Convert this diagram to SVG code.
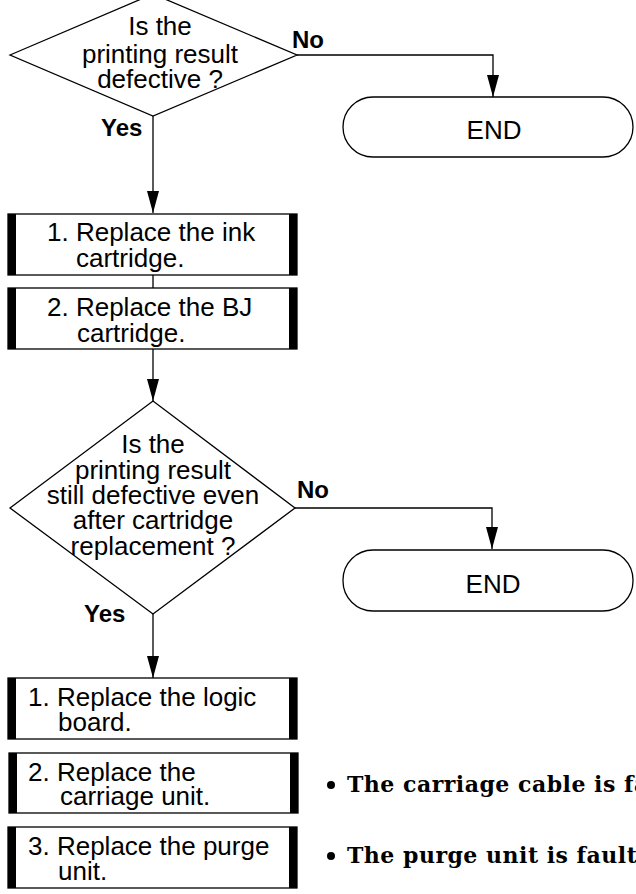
<svg xmlns="http://www.w3.org/2000/svg" width="636" height="894" viewBox="0 0 636 894">
<defs>
<marker id="arr" markerWidth="22" markerHeight="12" refX="22" refY="6" orient="auto" markerUnits="userSpaceOnUse" viewBox="0 0 22 12">
<path d="M0,0 L22,6 L0,12 Z" fill="#000"/>
</marker>
<style>
.shape{fill:#fff;stroke:#000;stroke-width:1.3}
.bar{fill:#000}
.t{font-family:"Liberation Sans",Arial,sans-serif;font-size:26px;fill:#000}
.lbl{font-family:"Liberation Sans",Arial,sans-serif;font-size:24px;font-weight:bold;fill:#000}
.note{font-family:"DejaVu Serif",serif;font-size:22px;font-weight:bold;letter-spacing:0.5px;fill:#000}
.c{fill:none;stroke:#000;stroke-width:1.3}
</style>
</defs>
<rect width="636" height="894" fill="#fff"/>
<g id="connectors">
<path class="c" d="M297,55 H493 V97" marker-end="url(#arr)"/>
<path class="c" d="M153,116 V213" marker-end="url(#arr)"/>
<path class="c" d="M153,275 V288"/>
<path class="c" d="M153,349 V401" marker-end="url(#arr)"/>
<path class="c" d="M295,508 H492 V549" marker-end="url(#arr)"/>
<path class="c" d="M153,614 V678" marker-end="url(#arr)"/>
</g>
<g id="labels">
<text class="lbl" x="292" y="48">No</text>
<text class="lbl" x="101" y="136">Yes</text>
<text class="lbl" x="297" y="498">No</text>
<text class="lbl" x="84" y="622">Yes</text>
</g>
<g id="d1">
<polygon class="shape" points="10,55 153,-6 297,55 153,116"/>
<text class="t" text-anchor="middle" x="160" y="35">Is the</text>
<text class="t" text-anchor="middle" x="160" y="63">printing result</text>
<text class="t" text-anchor="middle" x="160" y="88">defective ?</text>
</g>
<g id="end1">
<rect class="shape" x="343" y="97" width="290" height="60" rx="30" ry="30"/>
<text class="t" text-anchor="middle" x="494" y="139">END</text>
</g>
<g id="b1">
<rect class="shape" x="8" y="214" width="289" height="61"/>
<rect class="bar" x="8" y="214" width="8" height="61"/>
<rect class="bar" x="289" y="214" width="8" height="61"/>
<text class="t" x="47" y="241">1. Replace the ink</text>
<text class="t" x="76" y="267">cartridge.</text>
</g>
<g id="b2">
<rect class="shape" x="8" y="288" width="289" height="61"/>
<rect class="bar" x="8" y="288" width="8" height="61"/>
<rect class="bar" x="289" y="288" width="8" height="61"/>
<text class="t" x="47" y="316">2. Replace the BJ</text>
<text class="t" x="77" y="342">cartridge.</text>
</g>
<g id="d2">
<polygon class="shape" points="10,508 153,401 295,508 153,614"/>
<text class="t" text-anchor="middle" x="153" y="453">Is the</text>
<text class="t" text-anchor="middle" x="153" y="479">printing result</text>
<text class="t" text-anchor="middle" x="153" y="504">still defective even</text>
<text class="t" text-anchor="middle" x="153" y="529">after cartridge</text>
<text class="t" text-anchor="middle" x="153" y="555">replacement ?</text>
</g>
<g id="end2">
<rect class="shape" x="343" y="550" width="290" height="61" rx="30" ry="30"/>
<text class="t" text-anchor="middle" x="493" y="593">END</text>
</g>
<g id="b3">
<rect class="shape" x="8" y="678" width="289" height="61"/>
<rect class="bar" x="8" y="678" width="8" height="61"/>
<rect class="bar" x="289" y="678" width="8" height="61"/>
<text class="t" x="28" y="706">1. Replace the logic</text>
<text class="t" x="58" y="731">board.</text>
</g>
<g id="b4">
<rect class="shape" x="9" y="753" width="289" height="60"/>
<rect class="bar" x="9" y="753" width="8" height="60"/>
<rect class="bar" x="290" y="753" width="8" height="60"/>
<text class="t" x="28" y="781">2. Replace the</text>
<text class="t" x="60" y="805">carriage unit.</text>
</g>
<g id="b5">
<rect class="shape" x="8" y="827" width="289" height="61"/>
<rect class="bar" x="8" y="827" width="8" height="61"/>
<rect class="bar" x="289" y="827" width="8" height="61"/>
<text class="t" x="28" y="855">3. Replace the purge</text>
<text class="t" x="58" y="880">unit.</text>
</g>
<g id="notes">
<circle cx="331" cy="785" r="4" fill="#000"/>
<text class="note" x="347" y="792">The carriage cable is faulty.</text>
<circle cx="331" cy="856" r="4" fill="#000"/>
<text class="note" x="347" y="863">The purge unit is faulty.</text>
</g>
</svg>
